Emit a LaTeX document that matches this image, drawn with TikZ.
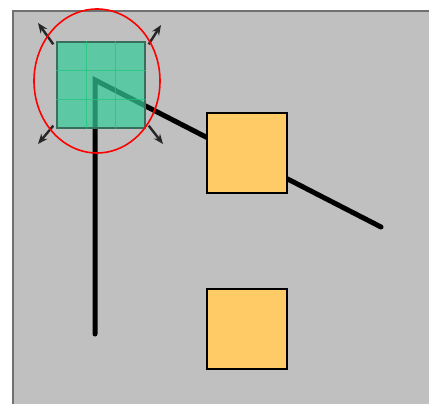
\documentclass[tikz,border=0pt]{standalone}
\usetikzlibrary{arrows.meta,calc}
\definecolor{panelgray}{HTML}{C0C0C0}
\definecolor{paneledge}{HTML}{707070}
\definecolor{tilegreen}{HTML}{33CC99}
\definecolor{gridgreen}{HTML}{1FC57F}
\definecolor{boxorange}{HTML}{FFCB67}
\tikzset{
  panel/.style={fill=panelgray, draw=none},
  rod/.style={line width=5pt, black, line cap=round},
  tile/.style={draw=black!50!tilegreen!70!gray, line width=1.4pt, fill=tilegreen, fill opacity=0.7,
    minimum width=88pt, minimum height=86pt, inner sep=0pt},
  gridline/.style={gridgreen, line width=1.2pt, opacity=0.7},
  crate/.style={draw=black, line width=2pt, fill=boxorange,
    minimum width=80pt, minimum height=80pt, inner sep=0pt},
  handle/.style={line width=2.4pt, black!85, -{Stealth[length=10pt,width=8pt]}},
  ring/.style={draw=red, line width=1.6pt}
}
\begin{document}
\begin{tikzpicture}[x=1pt,y=-1pt]
  \useasboundingbox (0,0) rectangle (429,404);
  \fill[white] (0,0) rectangle (429,404);
  % grey panel with its shaded top and left edges
  \fill[panel] (12,10) rectangle (429,404);
  \draw[paneledge, line width=2pt] (13,404) -- (13,11) -- (429,11);

  % two rods meeting at the apex
  \coordinate (apex) at (95,80);
  \coordinate (rodfoot) at (95,334);
  \coordinate (rodtip) at (381,227);
  \draw[rod] (rodfoot) -- (apex) -- (rodtip);

  % orange boxes
  \node[crate] (boxA) at (247,153) {};
  \node[crate] (boxB) at (247,329) {};

  % translucent green tile with grid
  \node[tile] (tile) at (101,85) {};
  \foreach \f in {1,2} {
    \draw[gridline]
      ($(tile.south west)!\f/3!(tile.south east)$) -- ($(tile.north west)!\f/3!(tile.north east)$);
    \draw[gridline]
      ($(tile.north west)!\f/3!(tile.south west)$) -- ($(tile.north east)!\f/3!(tile.south east)$);
  }

  % resize handles at the corners
  \coordinate (hNW) at (38,23);
  \coordinate (hNE) at (161,25);
  \coordinate (hSW) at (38,144);
  \coordinate (hSE) at (163,144);
  \draw[handle] ([shift={(-3pt,-3pt)}]tile.north west) -- (hNW);
  \draw[handle] ([shift={(3pt,-3pt)}]tile.north east) -- (hNE);
  \draw[handle] ([shift={(-3pt,3pt)}]tile.south west) -- (hSW);
  \draw[handle] ([shift={(3pt,3pt)}]tile.south east) -- (hSE);

  % red selection ring
  \draw[ring] (97,81) ellipse [x radius=63, y radius=72];
\end{tikzpicture}
\end{document}
